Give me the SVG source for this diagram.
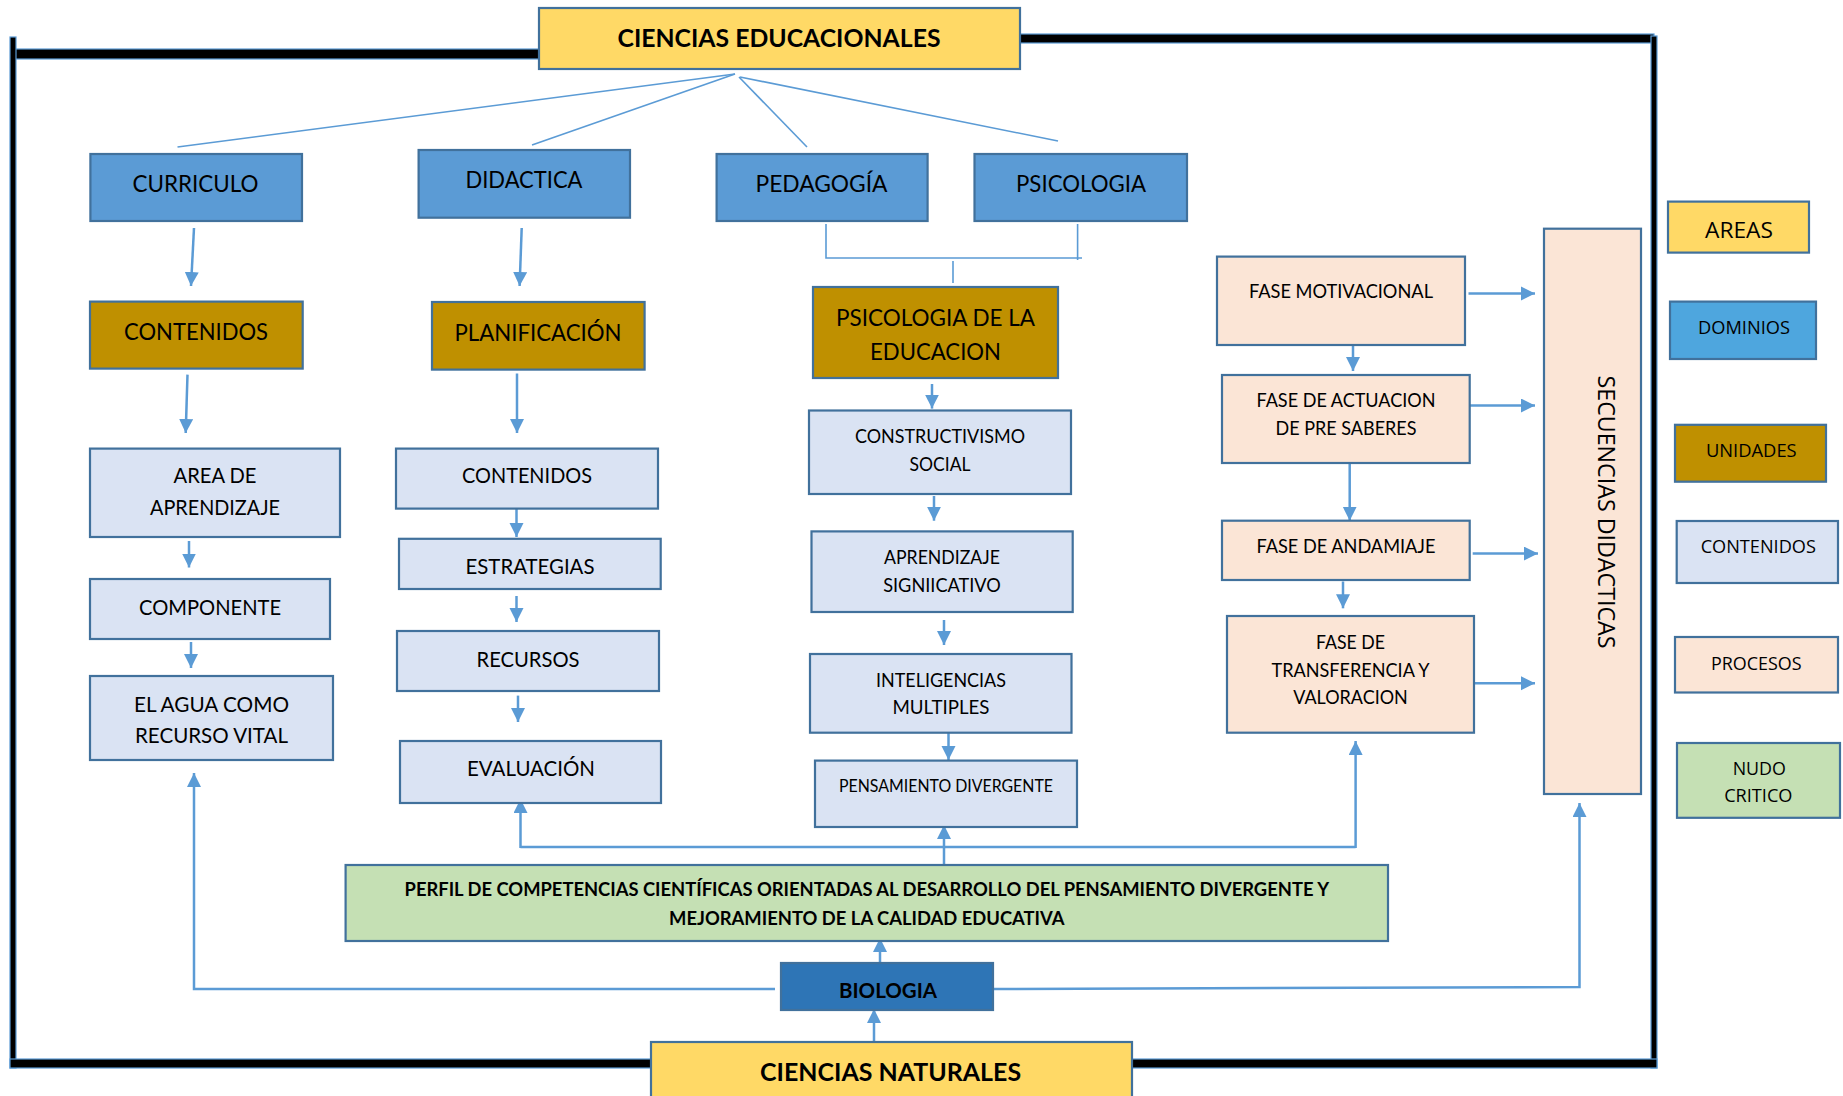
<svg xmlns="http://www.w3.org/2000/svg" width="1843" height="1096" viewBox="0 0 1843 1096">
<defs>
<marker id="ah" markerUnits="userSpaceOnUse" markerWidth="15" markerHeight="15" refX="14" refY="7" orient="auto">
<path d="M0,0 L14,7 L0,14 z" fill="#5B9BD5"/>
</marker>
<style>
.box{stroke:#41719C;stroke-width:2.2}
.area{fill:#FFD966}
.dom{fill:#5B9BD5}
.uni{fill:#BF9000}
.con{fill:#DAE3F3}
.pro{fill:#FBE5D6}
.nud{fill:#C5E0B4}
.bio{fill:#2E75B6}
.frame{fill:#000;stroke:#5B9BD5;stroke-width:1.2}
text{font-family:Lato,"Open Sans",sans-serif;fill:#000;text-anchor:middle}
.b{font-weight:bold}
.leg{font-family:"Open Sans",Lato,sans-serif}
.c{fill:none;stroke:#5B9BD5;stroke-width:2.5}
.a{fill:none;stroke:#5B9BD5;stroke-width:2.5;marker-end:url(#ah)}
.thin{fill:none;stroke:#5B9BD5;stroke-width:1.6}
</style>
</defs>
<rect width="1843" height="1096" fill="#fff"/>

<g id="frame">
<rect class="frame" x="13" y="49" width="526" height="10"/>
<rect class="frame" x="1020" y="34" width="634" height="9"/>
<rect class="frame" x="10" y="37" width="6" height="1031"/>
<rect class="frame" x="1651" y="36" width="6" height="1032"/>
<rect class="frame" x="10" y="1059" width="1647" height="9"/>
</g>

<g id="connectors">
<line class="thin" x1="735" y1="74" x2="177.5" y2="147"/>
<line class="thin" x1="735" y1="74" x2="532" y2="145"/>
<line class="thin" x1="739" y1="77" x2="807" y2="147"/>
<line class="thin" x1="740" y1="77" x2="1058" y2="141"/>
<polyline class="thin" points="826,224 826,258 1082,258"/>
<line class="thin" x1="1077.6" y1="224" x2="1077.6" y2="260"/>
<line class="thin" x1="953" y1="261" x2="953" y2="283"/>

<line class="a" x1="194" y1="228" x2="191" y2="286"/>
<line class="a" x1="521.7" y1="228" x2="519.6" y2="286"/>
<line class="a" x1="187.5" y1="374.6" x2="185.7" y2="433"/>
<line class="a" x1="517" y1="373.5" x2="517" y2="433"/>
<line class="a" x1="189" y1="541" x2="189" y2="567.5"/>
<line class="a" x1="191" y1="642" x2="191" y2="668"/>
<line class="a" x1="516.5" y1="509" x2="516.5" y2="537"/>
<line class="a" x1="516.5" y1="596" x2="516.5" y2="622"/>
<line class="a" x1="518" y1="695.6" x2="518" y2="722"/>
<line class="a" x1="932" y1="384" x2="932" y2="408.6"/>
<line class="a" x1="934" y1="496" x2="934" y2="520.7"/>
<line class="a" x1="944" y1="620" x2="944" y2="645"/>
<line class="a" x1="948.5" y1="733" x2="948.5" y2="760"/>
<line class="a" x1="1353" y1="345" x2="1353" y2="371"/>
<line class="a" x1="1349.7" y1="463" x2="1349.7" y2="520.7"/>
<line class="a" x1="1343" y1="581.5" x2="1343" y2="608.3"/>
<line class="a" x1="1468.5" y1="293.4" x2="1535" y2="293.4"/>
<line class="a" x1="1469.7" y1="405.5" x2="1535" y2="405.5"/>
<line class="a" x1="1472.7" y1="553.6" x2="1538" y2="553.6"/>
<line class="a" x1="1470" y1="683.3" x2="1535" y2="683.3"/>

<polyline class="a" points="775,989 194,989 194,773"/>
<polyline class="a" points="993,989 1579.5,987 1579.5,803"/>
<line class="a" x1="874" y1="1042" x2="874" y2="1009"/>
<line class="a" x1="880" y1="963" x2="880" y2="938"/>
<line class="a" x1="944" y1="865" x2="944" y2="825"/>
<line class="c" x1="520.5" y1="847" x2="1355.6" y2="847"/>
<line class="a" x1="520.5" y1="848" x2="520.5" y2="799"/>
<line class="a" x1="1355.6" y1="848" x2="1355.6" y2="741"/>
</g>

<g id="n-ciencias-educacionales">
<rect class="box area" x="539" y="8" width="481" height="61"/>
<text class="b" x="779" y="46.6" font-size="24" textLength="323" lengthAdjust="spacingAndGlyphs">CIENCIAS EDUCACIONALES</text>
</g>
<g id="n-curriculo">
<rect class="box dom" x="90.4" y="154" width="211.6" height="67"/>
<text x="195.5" y="191.5" font-size="23" textLength="126" lengthAdjust="spacingAndGlyphs">CURRICULO</text>
</g>
<g id="n-didactica">
<rect class="box dom" x="418.6" y="150" width="211.4" height="67.7"/>
<text x="524" y="188" font-size="23" textLength="117" lengthAdjust="spacingAndGlyphs">DIDACTICA</text>
</g>
<g id="n-pedagogia">
<rect class="box dom" x="716.6" y="154" width="211" height="67"/>
<text x="821.5" y="191.5" font-size="23" textLength="132" lengthAdjust="spacingAndGlyphs">PEDAGOGÍA</text>
</g>
<g id="n-psicologia">
<rect class="box dom" x="974.5" y="154" width="212.5" height="67"/>
<text x="1081" y="191.5" font-size="23" textLength="130" lengthAdjust="spacingAndGlyphs">PSICOLOGIA</text>
</g>

<g id="n-contenidos-u">
<rect class="box uni" x="90" y="301.6" width="212.7" height="67"/>
<text x="196" y="339.5" font-size="23.5" textLength="144" lengthAdjust="spacingAndGlyphs">CONTENIDOS</text>
</g>
<g id="n-planificacion">
<rect class="box uni" x="432" y="302" width="212.6" height="67.6"/>
<text x="538" y="340.5" font-size="23.5" textLength="167" lengthAdjust="spacingAndGlyphs">PLANIFICACIÓN</text>
</g>
<g id="n-psico-educacion">
<rect class="box uni" x="813" y="287" width="245" height="91"/>
<text x="935.5" y="325.5" font-size="23" textLength="199" lengthAdjust="spacingAndGlyphs">PSICOLOGIA DE LA</text>
<text x="935.5" y="360" font-size="23" textLength="131" lengthAdjust="spacingAndGlyphs">EDUCACION</text>
</g>

<g id="n-area-aprendizaje">
<rect class="box con" x="90" y="448.6" width="250" height="88.4"/>
<text x="215" y="483.3" font-size="21" textLength="83" lengthAdjust="spacingAndGlyphs">AREA DE</text>
<text x="215" y="515" font-size="21" textLength="130" lengthAdjust="spacingAndGlyphs">APRENDIZAJE</text>
</g>
<g id="n-componente">
<rect class="box con" x="90" y="579" width="240" height="60"/>
<text x="210" y="615" font-size="21" textLength="142" lengthAdjust="spacingAndGlyphs">COMPONENTE</text>
</g>
<g id="n-agua">
<rect class="box con" x="90" y="676" width="243" height="84"/>
<text x="211.5" y="712" font-size="21" textLength="155" lengthAdjust="spacingAndGlyphs">EL AGUA COMO</text>
<text x="211.5" y="743" font-size="21" textLength="153" lengthAdjust="spacingAndGlyphs">RECURSO VITAL</text>
</g>

<g id="n-contenidos-c">
<rect class="box con" x="396" y="448.6" width="262" height="60"/>
<text x="527" y="483.3" font-size="21" textLength="130" lengthAdjust="spacingAndGlyphs">CONTENIDOS</text>
</g>
<g id="n-estrategias">
<rect class="box con" x="399" y="538.8" width="261.7" height="50.2"/>
<text x="530" y="573.5" font-size="21" textLength="129" lengthAdjust="spacingAndGlyphs">ESTRATEGIAS</text>
</g>
<g id="n-recursos">
<rect class="box con" x="397" y="631" width="262" height="60"/>
<text x="528" y="667" font-size="21" textLength="103" lengthAdjust="spacingAndGlyphs">RECURSOS</text>
</g>
<g id="n-evaluacion">
<rect class="box con" x="400" y="741" width="261" height="62"/>
<text x="531" y="776" font-size="21" textLength="128" lengthAdjust="spacingAndGlyphs">EVALUACIÓN</text>
</g>

<g id="n-constructivismo">
<rect class="box con" x="809" y="410.5" width="262" height="83.5"/>
<text x="940" y="443" font-size="19.5" textLength="170" lengthAdjust="spacingAndGlyphs">CONSTRUCTIVISMO</text>
<text x="940" y="471" font-size="19.5" textLength="61" lengthAdjust="spacingAndGlyphs">SOCIAL</text>
</g>
<g id="n-aprendizaje-sig">
<rect class="box con" x="811.5" y="531.4" width="261.2" height="80.6"/>
<text x="942" y="563.5" font-size="19.5" textLength="116" lengthAdjust="spacingAndGlyphs">APRENDIZAJE</text>
<text x="942" y="592" font-size="19.5" textLength="117.6" lengthAdjust="spacingAndGlyphs">SIGNIICATIVO</text>
</g>
<g id="n-inteligencias">
<rect class="box con" x="810" y="654" width="261.5" height="78.7"/>
<text x="941" y="687" font-size="19.5" textLength="130" lengthAdjust="spacingAndGlyphs">INTELIGENCIAS</text>
<text x="941" y="714" font-size="19.5" textLength="97" lengthAdjust="spacingAndGlyphs">MULTIPLES</text>
</g>
<g id="n-pensamiento">
<rect class="box con" x="815" y="760.6" width="262" height="66.4"/>
<text x="946" y="792" font-size="17.5" textLength="214" lengthAdjust="spacingAndGlyphs">PENSAMIENTO DIVERGENTE</text>
</g>

<g id="n-fase-motivacional">
<rect class="box pro" x="1217" y="256.6" width="248" height="88.4"/>
<text x="1341" y="298" font-size="19.5" textLength="184" lengthAdjust="spacingAndGlyphs">FASE MOTIVACIONAL</text>
</g>
<g id="n-fase-actuacion">
<rect class="box pro" x="1222" y="375" width="247.7" height="88"/>
<text x="1346" y="406.7" font-size="19.5" textLength="179" lengthAdjust="spacingAndGlyphs">FASE DE ACTUACION</text>
<text x="1346" y="434.6" font-size="19.5" textLength="141" lengthAdjust="spacingAndGlyphs">DE PRE SABERES</text>
</g>
<g id="n-fase-andamiaje">
<rect class="box pro" x="1222" y="520.7" width="247.7" height="59.3"/>
<text x="1346" y="553" font-size="19.5" textLength="179" lengthAdjust="spacingAndGlyphs">FASE DE ANDAMIAJE</text>
</g>
<g id="n-fase-transferencia">
<rect class="box pro" x="1227" y="616" width="247" height="116.7"/>
<text x="1350.5" y="649" font-size="19.5" textLength="69" lengthAdjust="spacingAndGlyphs">FASE DE</text>
<text x="1350.5" y="676.5" font-size="19.5" textLength="158" lengthAdjust="spacingAndGlyphs">TRANSFERENCIA Y</text>
<text x="1350.5" y="704.4" font-size="19.5" textLength="114.5" lengthAdjust="spacingAndGlyphs">VALORACION</text>
</g>
<g id="n-secuencias">
<rect class="box pro" x="1544" y="228.7" width="97" height="565.3"/>
<text class="leg" transform="translate(1597.5,512) rotate(90)" x="0" y="0" font-size="23" textLength="273" lengthAdjust="spacingAndGlyphs">SECUENCIAS DIDACTICAS</text>
</g>

<g id="n-perfil">
<rect class="box nud" x="345.6" y="865" width="1042.4" height="76"/>
<text class="b" x="866.8" y="896" font-size="18" textLength="924.5" lengthAdjust="spacingAndGlyphs">PERFIL DE COMPETENCIAS CIENTÍFICAS ORIENTADAS AL DESARROLLO DEL PENSAMIENTO DIVERGENTE Y</text>
<text class="b" x="866.8" y="925" font-size="18" textLength="395.5" lengthAdjust="spacingAndGlyphs">MEJORAMIENTO DE LA CALIDAD EDUCATIVA</text>
</g>
<g id="n-biologia">
<rect class="box bio" x="781" y="963" width="212" height="47"/>
<text class="b" x="888" y="998" font-size="21" textLength="98" lengthAdjust="spacingAndGlyphs">BIOLOGIA</text>
</g>
<g id="n-ciencias-naturales">
<rect class="box area" x="651" y="1042" width="481" height="60"/>
<text class="b" x="890.6" y="1080.7" font-size="24" textLength="261" lengthAdjust="spacingAndGlyphs">CIENCIAS NATURALES</text>
</g>

<g id="legend-areas">
<rect class="box area" x="1668" y="201.6" width="141" height="51"/>
<text class="leg" x="1739" y="238" font-size="22.5" textLength="68" lengthAdjust="spacingAndGlyphs">AREAS</text>
</g>
<g id="legend-dominios">
<rect class="box" fill="#4EA6DE" x="1670" y="301.6" width="146" height="57.4"/>
<text class="leg" x="1744" y="333.5" font-size="18" textLength="92" lengthAdjust="spacingAndGlyphs">DOMINIOS</text>
</g>
<g id="legend-unidades">
<rect class="box uni" x="1675" y="424.8" width="151" height="56.9"/>
<text class="leg" x="1751.3" y="457" font-size="18" textLength="90.7" lengthAdjust="spacingAndGlyphs">UNIDADES</text>
</g>
<g id="legend-contenidos">
<rect class="box con" x="1676.7" y="521" width="161.3" height="62"/>
<text class="leg" x="1758.3" y="552.6" font-size="18" textLength="115.3" lengthAdjust="spacingAndGlyphs">CONTENIDOS</text>
</g>
<g id="legend-procesos">
<rect class="box pro" x="1675" y="637" width="163" height="55.5"/>
<text class="leg" x="1756.3" y="669.6" font-size="18" textLength="90.7" lengthAdjust="spacingAndGlyphs">PROCESOS</text>
</g>
<g id="legend-nudo">
<rect class="box nud" x="1677" y="743" width="163" height="74.8"/>
<text class="leg" x="1759.3" y="774.6" font-size="18" textLength="53.3" lengthAdjust="spacingAndGlyphs">NUDO</text>
<text class="leg" x="1758.3" y="802.4" font-size="18" textLength="68.3" lengthAdjust="spacingAndGlyphs">CRITICO</text>
</g>
</svg>
